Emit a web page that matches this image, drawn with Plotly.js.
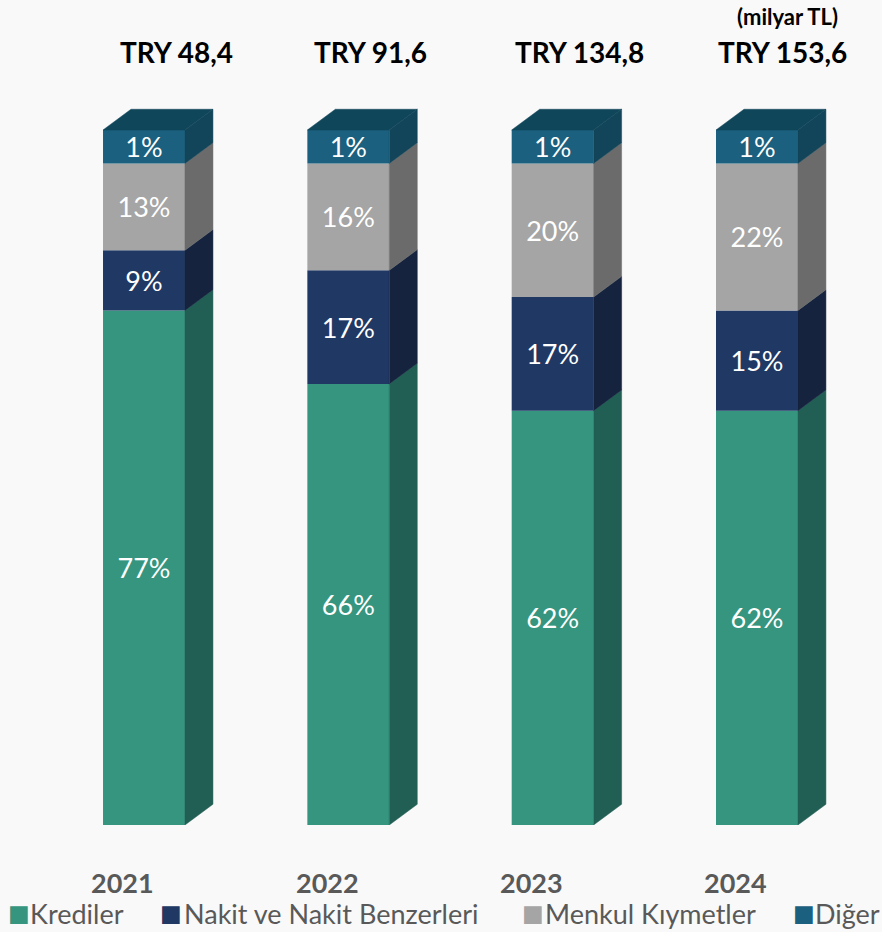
<!DOCTYPE html>
<html>
<head>
<meta charset="utf-8">
<script src="https://cdn.plot.ly/plotly-3.0.1.min.js"></script>
<style>
  html, body { margin: 0; padding: 0; background: #f9f9f9; }
  #chart { width: 882px; height: 932px; }
</style>
</head>
<body>
<div id="chart"></div>
<script>
// ---- data ----
const years = ['2021', '2022', '2023', '2024'];
const totals = ['TRY 48,4', 'TRY 91,6', 'TRY 134,8', 'TRY 153,6'];
const unitNote = '(milyar TL)';
const krediler = [77, 66, 62, 62];
const nakit = [9, 17, 17, 15];
const menkul = [13, 16, 20, 22];
const digerLabel = [1, 1, 1, 1];
const digerHeight = [5, 5, 5, 5]; // drawn height of the "Diğer" block in the reference (not to scale)

const seriesNames = ['Krediler', 'Nakit ve Nakit Benzerleri', 'Menkul Kıymetler', 'Diğer'];
const frontColors = ['#35957f', '#203864', '#a5a5a5', '#1b607e'];
const sideColors = ['#215f55', '#15233f', '#6b6b6b', '#124559'];
const topColor = '#10465a';

// ---- geometry (style) ----
const W = 0.401;   // bar width in category units
const DX = 0.137;  // depth offset x
const DY = 3.1;    // depth offset y
const FONT = 'Lato, "Open Sans", sans-serif';
const totalShift = [33, 22, 27, 26];
const legendSquareX = [7, 159, 521, 792];
const legendTextX = [29, 183, 544, 814];

const idx = years.map((_, i) => i);
const heights = [krediler, nakit, menkul, digerHeight];
const labels = [krediler, nakit, menkul, digerLabel];

const traces = [];
const base = idx.map(() => 0);
const sidePolys = [];
heights.forEach((vals, s) => {
  const b = base.slice();
  traces.push({
    type: 'bar',
    x: idx,
    y: vals,
    base: b,
    width: W,
    name: seriesNames[s],
    marker: { color: frontColors[s], line: { width: 0 } },
    text: labels[s].map(v => v + '%'),
    textposition: 'inside',
    insidetextanchor: 'middle',
    textangle: 0,
    constraintext: 'none',
    textfont: { family: FONT, size: 27, color: '#ffffff' },
    showlegend: false,
    hoverinfo: 'skip'
  });
  const xs = [], ys = [];
  idx.forEach((i, k) => {
    const x1 = i + W / 2;
    const y0 = b[k], y1 = b[k] + vals[k];
    xs.push(x1, x1 + DX, x1 + DX, x1, x1, null);
    ys.push(y0, y0 + DY, y1 + DY, y1, y0, null);
    base[k] = y1;
  });
  sidePolys.push({ xs, ys, color: sideColors[s] });
});

sidePolys.forEach(p => {
  traces.push({
    type: 'scatter', mode: 'lines', x: p.xs, y: p.ys,
    fill: 'toself', fillcolor: p.color,
    line: { width: 0.5, color: p.color },
    showlegend: false, hoverinfo: 'skip'
  });
});

// top faces
const tx = [], ty = [];
idx.forEach((i, k) => {
  const x0 = i - W / 2, x1 = i + W / 2, t = base[k];
  tx.push(x0, x0 + DX, x1 + DX, x1, x0, null);
  ty.push(t, t + DY, t + DY, t, t, null);
});
traces.push({
  type: 'scatter', mode: 'lines', x: tx, y: ty,
  fill: 'toself', fillcolor: topColor,
  line: { width: 0.5, color: topColor },
  showlegend: false, hoverinfo: 'skip'
});

// ---- annotations ----
const annotations = [];
idx.forEach((i, k) => {
  annotations.push({
    x: i, y: 0.937, xref: 'x', yref: 'paper', xshift: totalShift[k],
    text: '<b>' + totals[k] + '</b>', showarrow: false,
    xanchor: 'center', yanchor: 'middle',
    font: { family: FONT, size: 28, color: '#000000' }
  });
  annotations.push({
    x: i, y: 0, xref: 'x', yref: 'y', xshift: -21, yshift: -57,
    text: '<b>' + years[k] + '</b>', showarrow: false,
    xanchor: 'center', yanchor: 'middle',
    font: { family: FONT, size: 27, color: '#595959' }
  });
});
annotations.push({
  x: 787 / 882, y: (825 - 16) / 825, xref: 'paper', yref: 'paper',
  text: '<b>' + unitNote + '</b>', showarrow: false,
  xanchor: 'center', yanchor: 'middle',
  font: { family: FONT, size: 22, color: '#000000' }
});
seriesNames.forEach((n, s) => {
  annotations.push({
    x: legendSquareX[s] / 882, y: (825 - 913) / 825, xref: 'paper', yref: 'paper',
    text: '■', showarrow: false, xanchor: 'left', yanchor: 'middle', borderpad: 0,
    font: { family: 'DejaVu Sans', size: 23, color: frontColors[s] }
  });
  annotations.push({
    x: legendTextX[s] / 882, y: (825 - 913) / 825, xref: 'paper', yref: 'paper',
    text: n, showarrow: false, xanchor: 'left', yanchor: 'middle', borderpad: 0,
    font: { family: FONT, size: 27, color: '#595959' }
  });
});

const layout = {
  width: 882, height: 932,
  margin: { l: 0, r: 0, t: 0, b: 107 },
  paper_bgcolor: '#f9f9f9',
  plot_bgcolor: '#f9f9f9',
  barmode: 'overlay',
  showlegend: false,
  xaxis: { range: [-0.7047, 3.6119], visible: false, fixedrange: true },
  yaxis: { range: [0, 123.45], visible: false, fixedrange: true },
  annotations: annotations
};

Plotly.newPlot('chart', traces, layout, { staticPlot: true, displayModeBar: false });
</script>
</body>
</html>
